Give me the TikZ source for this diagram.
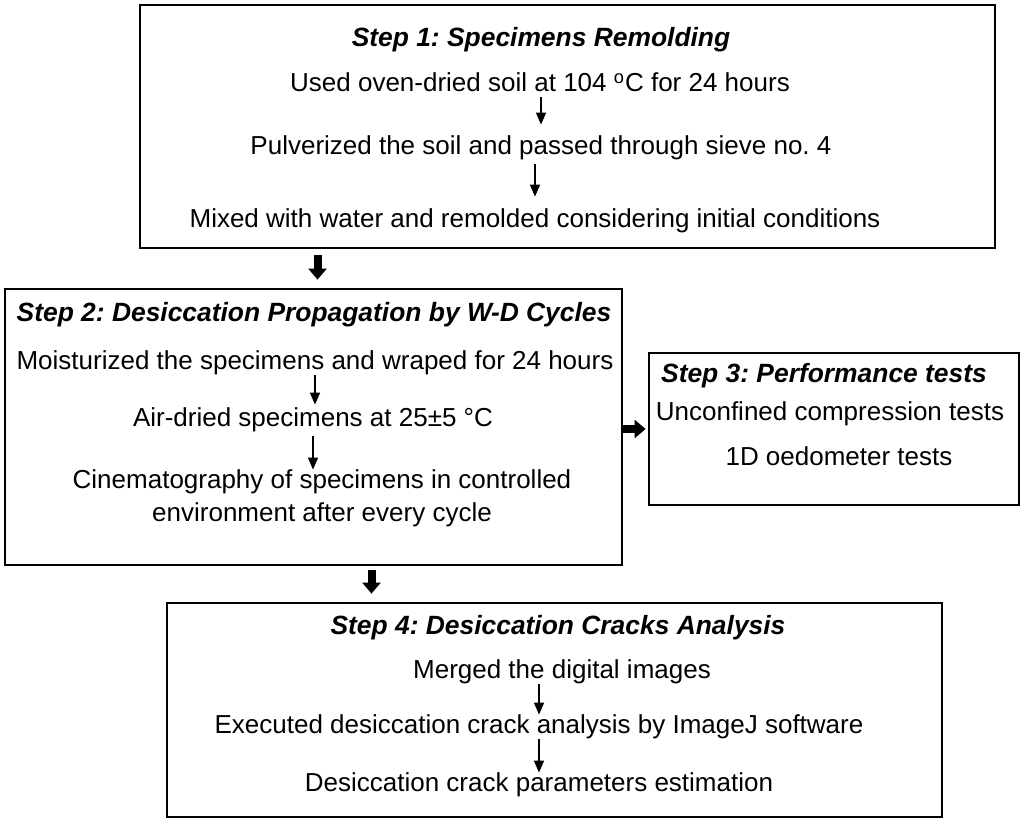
\documentclass[tikz,border=0pt]{standalone}
\usepackage{fontspec}
\setmainfont{Liberation Sans}
\usetikzlibrary{positioning,arrows.meta}
\frenchspacing

\begin{document}
\begin{tikzpicture}[
    x=0.5pt, y=-0.5pt,
    every node/.style={font=\fontsize{13}{16.5}\selectfont},
    box/.style={
        rectangle, draw=black, line width=1.4pt, fill=white, inner sep=0pt
    },
    steptitle/.style={
        font=\fontsize{13.2}{16.5}\selectfont\bfseries\itshape,
        inner sep=0pt, text height=9.4pt, text depth=2.6pt
    },
    itemtext/.style={inner sep=0pt, text height=9.4pt, text depth=2.6pt},
    smallarrow/.style={-{Triangle[width=5pt,length=6pt]}, line width=0.8pt},
    bigarrow/.style={-{Triangle[width=9pt,length=5.5pt]}, line width=4pt}
]

\useasboundingbox (0,0) rectangle (1024,825);

% the four boxes
\node[box, minimum width=427.5pt, minimum height=121.5pt] (B1) at (567.5,126.5) {};
\node[box, minimum width=308.5pt, minimum height=138pt] (B2) at (313.5,427) {};
\node[box, minimum width=185pt, minimum height=76pt] (B3) at (834,429) {};
\node[box, minimum width=387.5pt, minimum height=107pt] (B4) at (554.5,710) {};

% Step 1
\node[steptitle] (T1) at (541,40) {Step 1: Specimens Remolding};
\node[itemtext] (S11) at (540,85) {Used oven-dried soil at 104 \textsuperscript{o}C for 24 hours};
\node[itemtext] (S12) at (541,148) {Pulverized the soil and passed through sieve no. 4};
\node[itemtext] (S13) at (535,221) {Mixed with water and remolded considering initial conditions};

% Step 2
\node[steptitle] (T2) at (314,315) {Step 2: Desiccation Propagation by W-D Cycles};
\node[itemtext] (S21) at (315,363) {Moisturized the specimens and wraped for 24 hours};
\node[itemtext] (S22) at (313,420) {Air-dried specimens at 25±5 °C};
\node[inner sep=0pt, align=center] (S23) at (322,498.6) {Cinematography of specimens in controlled\\environment after every cycle};

% Step 3
\node[steptitle] (T3) at (824,376) {Step 3: Performance tests};
\node[itemtext] (S31) at (830,414) {Unconfined compression tests};
\node[itemtext] (S32) at (839,459) {1D oedometer tests};

% Step 4
\node[steptitle] (T4) at (558,628) {Step 4: Desiccation Cracks Analysis};
\node[itemtext] (S41) at (562,672) {Merged the digital images};
\node[itemtext] (S42) at (539,727) {Executed desiccation crack analysis by ImageJ software};
\node[itemtext] (S43) at (539,785) {Desiccation crack parameters estimation};

% arrows inside the boxes
\draw[smallarrow, shorten >=5.5pt] (S11.south -| S12.north) -- (S12.north);
\draw[smallarrow, shorten <=2pt, shorten >=6pt] (S12.south -| S13.north) -- (S13.north);
\draw[smallarrow, shorten >=1.5pt] (S21.south) -- (S22.north -| S21.south);
\draw[smallarrow, shorten <=2pt] (S22.south) -- (S23.north -| S22.south);
\draw[smallarrow] (S41.south -| S42.north) -- (S42.north);
\draw[smallarrow] (S42.south) -- (S43.north -| S42.south);

% arrows between the boxes
\draw[bigarrow, shorten <=3pt, shorten >=4pt] ([xshift=2pt]B1.south -| B2.north) -- ([xshift=2pt]B2.north);
\draw[bigarrow, shorten >=1pt] (B2.east |- B3.west) -- (B3.west);
\draw[bigarrow, shorten <=2pt, shorten >=4pt] ([xshift=29pt]B2.south) -- ([xshift=29pt]B2.south |- B4.north);

\end{tikzpicture}
\end{document}
